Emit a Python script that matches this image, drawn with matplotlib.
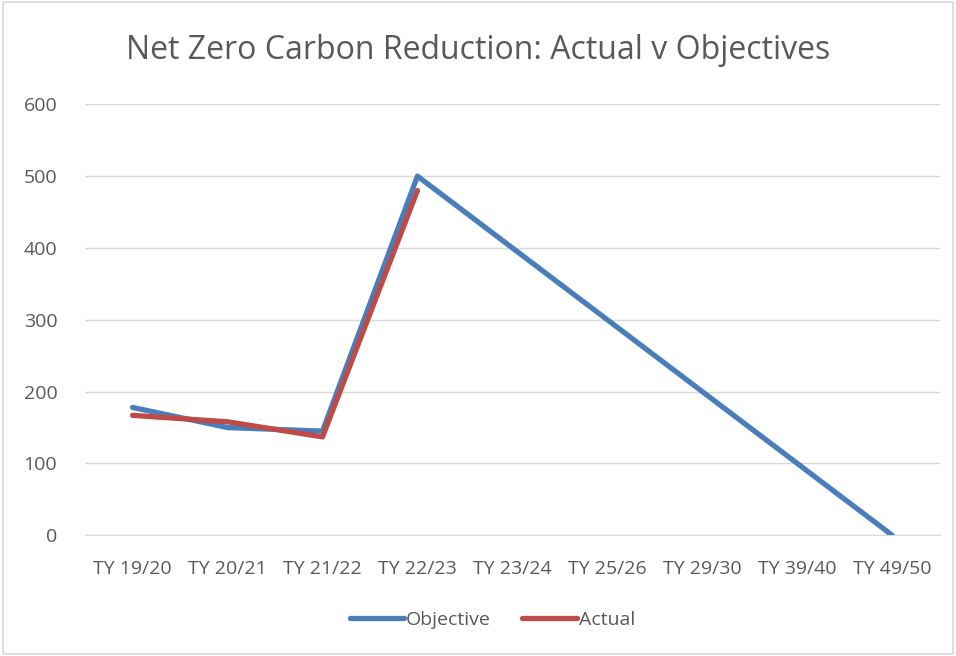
import matplotlib
matplotlib.use("Agg")
import matplotlib.pyplot as plt
from matplotlib.patches import Rectangle

categories = ["TY 19/20", "TY 20/21", "TY 21/22", "TY 22/23", "TY 23/24",
              "TY 25/26", "TY 29/30", "TY 39/40", "TY 49/50"]
objective = [178, 150, 145, 500, 400, 300, 200, 100, 0]
actual = [167, 158, 137, 480]
yticks = [0, 100, 200, 300, 400, 500, 600]

plt.rcParams['font.family'] = ['Open Sans', 'DejaVu Sans']

fig = plt.figure(figsize=(9.56, 6.56), dpi=100)
fig.patches.append(Rectangle((0.003, 0.003), 0.994, 0.994, transform=fig.transFigure,
                             fill=False, edgecolor='#d9d9d9', linewidth=1.2))
ax = fig.add_axes([0.089, 0.184, 0.894, 0.657])

x = list(range(len(categories)))
ax.plot(x, objective, color='#4a7ebb', linewidth=3.8, label='Objective',
        solid_capstyle='round', solid_joinstyle='round', zorder=3)
ax.plot(x[:len(actual)], actual, color='#be4b48', linewidth=3.8, label='Actual',
        solid_capstyle='round', solid_joinstyle='round', zorder=4)

ax.set_xlim(-0.5, len(categories) - 0.5)
ax.set_ylim(0, 600)
ax.set_yticks(yticks)
ax.set_xticks(x)
ax.set_xticklabels(categories)
ax.grid(axis='y', color='#d9d9d9', linewidth=1)
ax.set_axisbelow(True)
for s in ['top', 'right', 'left']:
    ax.spines[s].set_visible(False)
ax.spines['bottom'].set_color('#d9d9d9')
ax.tick_params(axis='both', length=0, labelsize=14, colors='#595959')
ax.tick_params(axis='x', pad=18)
ax.tick_params(axis='y', pad=20)

fig.suptitle("Net Zero Carbon Reduction: Actual v Objectives", y=0.948,
             fontsize=23, color='#595959')

fig.legend(loc='lower center', bbox_to_anchor=(0.515, 0.015), ncol=2, frameon=False,
           fontsize=14, labelcolor='#595959', handlelength=2.8, handletextpad=0.1,
           columnspacing=1.6)

fig.savefig("out.png", dpi=100)
